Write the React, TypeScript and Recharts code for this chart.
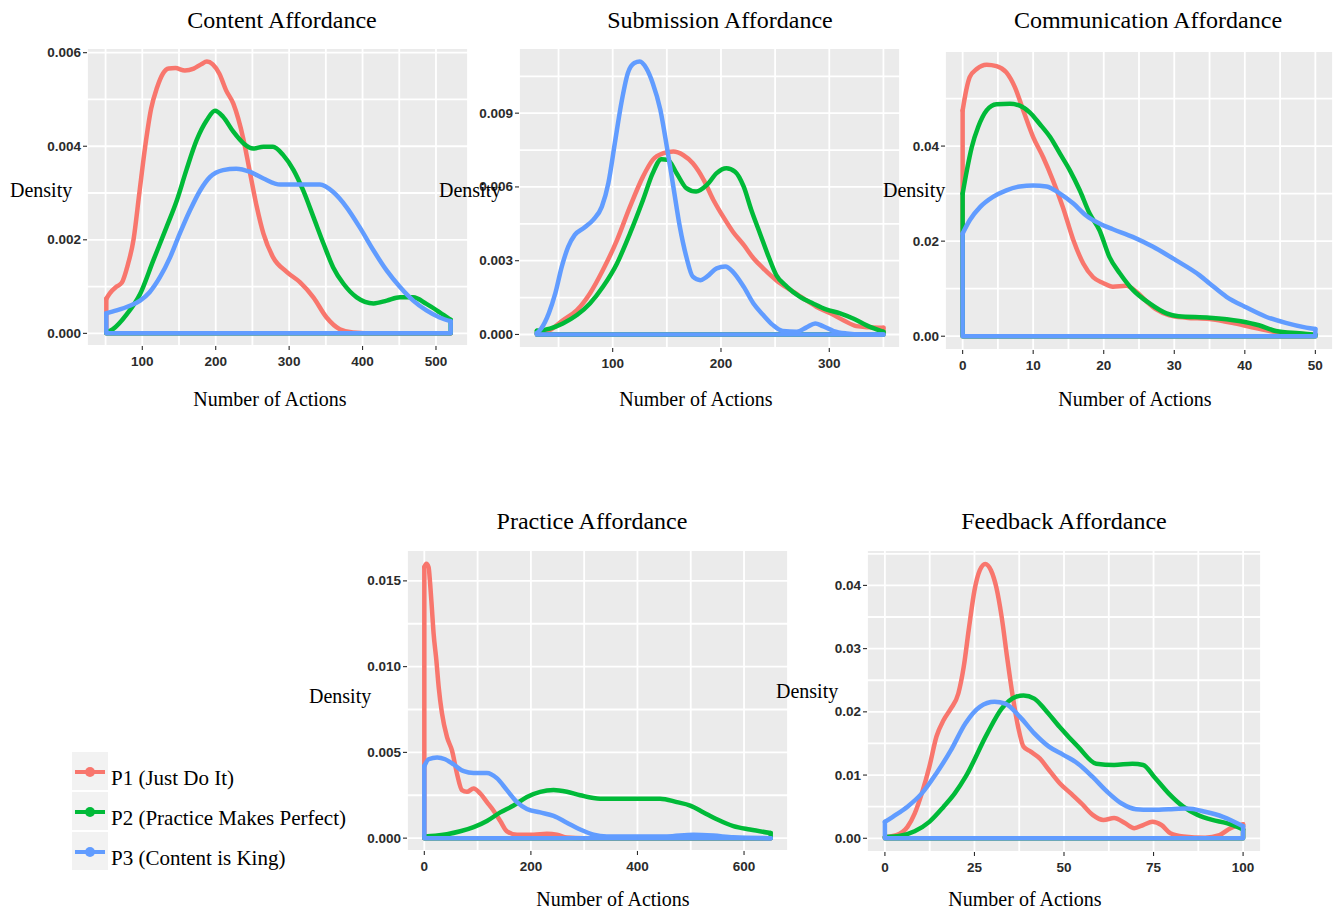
import React from 'react'
import { LineChart, Line, XAxis, YAxis, CartesianGrid } from 'recharts'

type Pt = [number, number]

const seriesNames = ['P1 (Just Do It)', 'P2 (Practice Makes Perfect)', 'P3 (Content is King)']
const seriesColors = ['#F8766D', '#00BA38', '#619CFF']

// Content Affordance: [number of actions, density]
const contentP1: Pt[] = [
  [51, 0.00074], [56, 0.00086], [65, 0.001], [72, 0.00108], [80, 0.00145], [88, 0.002],
  [96, 0.003], [104, 0.004], [112, 0.0048], [120, 0.00525], [128, 0.00555], [136, 0.00566],
  [145, 0.00567], [158, 0.00562], [170, 0.00566], [180, 0.00575], [188, 0.00581], [196, 0.00575],
  [205, 0.00555], [214, 0.0052], [224, 0.00491], [238, 0.00413], [247, 0.00341], [256, 0.0027],
  [265, 0.00213], [278, 0.00163], [297, 0.00131], [315, 0.00109], [333, 0.00077], [351, 0.00034],
  [369, 0.00009], [387, 0.00002], [420, 0], [520, 0],
]
const contentP2: Pt[] = [
  [51, 0.00002], [60, 0.00009], [79, 0.00041], [97, 0.00084], [115, 0.00156], [133, 0.00227],
  [147, 0.00284], [160, 0.00349], [174, 0.00413], [188, 0.00456], [199, 0.00476], [210, 0.00463],
  [224, 0.00431], [238, 0.00406], [251, 0.00395], [265, 0.00399], [278, 0.00399], [292, 0.00381],
  [306, 0.00349], [319, 0.00306], [333, 0.00249], [347, 0.00191], [360, 0.00141], [374, 0.00106],
  [392, 0.00077], [415, 0.00064], [433, 0.0007], [451, 0.00077], [469, 0.00077], [487, 0.00063],
  [505, 0.00045], [520, 0.00029],
]
const contentP3: Pt[] = [
  [51, 0.00043], [65, 0.00049], [83, 0.00059], [97, 0.0007], [110, 0.00088], [124, 0.0012],
  [138, 0.00163], [151, 0.00213], [165, 0.00263], [179, 0.00306], [192, 0.00334], [210, 0.00349],
  [228, 0.00352], [247, 0.00345], [265, 0.00331], [288, 0.00318], [315, 0.00318], [342, 0.00318],
  [360, 0.00302], [378, 0.0027], [396, 0.00227], [415, 0.00177], [433, 0.00134], [451, 0.00099],
  [469, 0.0007], [487, 0.00049], [505, 0.00034], [520, 0.00026],
]
const contentXTicks = [100, 200, 300, 400, 500]
const contentYTicks = [0, 0.002, 0.004, 0.006]

// Submission Affordance
const submissionP1: Pt[] = [
  [30, 0.00005], [42, 0.00018], [54, 0.00058], [67, 0.00099], [79, 0.00167], [91, 0.00262],
  [104, 0.00384], [116, 0.0052], [128, 0.00642], [137, 0.0071], [147, 0.00737], [156, 0.00744],
  [165, 0.0073], [174, 0.00696], [184, 0.00629], [193, 0.00547], [202, 0.00479], [211, 0.00418],
  [221, 0.00364], [230, 0.0031], [239, 0.00269], [251, 0.00221], [264, 0.00181], [276, 0.00147],
  [288, 0.00113], [301, 0.00086], [313, 0.00058], [325, 0.00034], [337, 0.00029], [350, 0.00027],
]
const submissionP2: Pt[] = [
  [30, 0.00015], [42, 0.00024], [54, 0.00045], [67, 0.00079], [79, 0.00126], [91, 0.00194],
  [104, 0.00289], [116, 0.00411], [128, 0.00547], [137, 0.00656], [145, 0.00713], [151, 0.0071],
  [159, 0.00656], [168, 0.00595], [177, 0.00581], [187, 0.00608], [196, 0.00656], [205, 0.00676],
  [213, 0.00662], [221, 0.00601], [228, 0.00506], [236, 0.00411], [244, 0.00316], [251, 0.00242],
  [261, 0.00194], [273, 0.00153], [285, 0.00126], [297, 0.00102], [310, 0.00086], [322, 0.00065],
  [334, 0.00038], [350, 0.00011],
]
const submissionP3: Pt[] = [
  [30, 0.00005], [34, 0.00024], [41, 0.00086], [47, 0.00167], [53, 0.00276], [59, 0.00357],
  [65, 0.00405], [73, 0.00432], [82, 0.00466], [90, 0.0052], [96, 0.00615], [102, 0.00778],
  [108, 0.00941], [114, 0.01063], [120, 0.01104], [125, 0.0111], [131, 0.01083], [137, 0.01022],
  [144, 0.00914], [150, 0.00764], [156, 0.00601], [162, 0.00438], [168, 0.00316], [174, 0.00235],
  [181, 0.00221], [187, 0.00235], [196, 0.00269], [204, 0.00276], [211, 0.00255], [221, 0.00194],
  [230, 0.00126], [239, 0.00079], [248, 0.00038], [257, 0.00014], [270, 0.00011], [279, 0.00029],
  [287, 0.00045], [294, 0.00034], [304, 0.00014], [316, 0.00004], [330, 0], [350, 0],
]
const submissionXTicks = [100, 200, 300]
const submissionYTicks = [0, 0.003, 0.006, 0.009]

// Communication Affordance
const communicationP1: Pt[] = [
  [0, 0.0475], [0.5, 0.0517], [1, 0.0545], [2, 0.0562], [3.4, 0.0571], [4.8, 0.0568],
  [6.2, 0.0555], [7.4, 0.0524], [8.6, 0.0475], [10, 0.0419], [11.4, 0.0377], [12.8, 0.0328],
  [14.2, 0.0272], [15.7, 0.0202], [17.1, 0.0153], [18.5, 0.0124], [19.9, 0.0112], [21.3, 0.0104],
  [23.2, 0.0106], [24.6, 0.0094], [26, 0.0074], [27.5, 0.0056], [29.3, 0.0044], [31.7, 0.0039],
  [35, 0.0036], [38.2, 0.0028], [41, 0.0019], [43.9, 0.001], [47.7, 0.0005], [50, 0.0003],
]
const communicationP2: Pt[] = [
  [0, 0.03], [0.6, 0.0349], [1.3, 0.0398], [2.2, 0.044], [3.4, 0.0475], [4.8, 0.0488],
  [6.7, 0.0489], [8.1, 0.0485], [9.5, 0.0471], [10.9, 0.0447], [12.4, 0.0419], [13.8, 0.0384],
  [15.2, 0.0349], [16.6, 0.0307], [18, 0.0258], [19.4, 0.0223], [20.8, 0.0167], [22.3, 0.0132],
  [24.1, 0.0098], [26.5, 0.0069], [28.9, 0.0048], [30.6, 0.0042], [35, 0.0039], [39.2, 0.0032],
  [42, 0.0023], [44.4, 0.0011], [47.7, 0.0006], [50, 0.0003],
]
const communicationP3: Pt[] = [
  [0, 0.0216], [1, 0.0244], [2.5, 0.0272], [4.3, 0.0293], [6.2, 0.0307], [8.1, 0.0315],
  [10, 0.0317], [11.9, 0.0315], [13.8, 0.03], [15.7, 0.0279], [17.5, 0.0254], [19.4, 0.0237],
  [21.3, 0.0225], [24.1, 0.0209], [27, 0.0188], [30.2, 0.016], [33.6, 0.0128], [35, 0.0111],
  [37.4, 0.0083], [40, 0.0062], [43, 0.0041], [45.8, 0.0028], [48.7, 0.0018], [50, 0.0015],
]
const communicationXTicks = [0, 10, 20, 30, 40, 50]
const communicationYTicks = [0, 0.02, 0.04]

// Practice Affordance
const practiceP1: Pt[] = [
  [0, 0.0158], [3.75, 0.016], [8, 0.0158], [11, 0.0148], [14, 0.0135], [17.5, 0.0119],
  [22.5, 0.0104], [27, 0.0088], [33, 0.0073], [42.5, 0.0059], [52, 0.0051], [61, 0.0038],
  [70.6, 0.0028], [80, 0.0027], [92.5, 0.0029], [105, 0.0026], [117.5, 0.0021], [130, 0.0016],
  [142.5, 0.001], [155, 0.0004], [174, 0.0002], [205, 0.0002], [230, 0.00025], [249, 0.0002],
  [267.5, 0.00004], [300, 0], [650, 0],
]
const practiceP2: Pt[] = [
  [0, 0.0001], [20.6, 0.00014], [42.5, 0.00023], [67.5, 0.0004], [92.5, 0.00064], [117.5, 0.001],
  [142.5, 0.0015], [167.5, 0.0019], [192.5, 0.0024], [217.5, 0.0027], [242.5, 0.0028],
  [267.5, 0.0027], [292.5, 0.0025], [330, 0.0023], [392.5, 0.0023], [442.5, 0.0023], [474, 0.0021],
  [499, 0.0019], [524, 0.0015], [549, 0.0011], [580, 0.0007], [611, 0.0005], [650, 0.0003],
]
const practiceP3: Pt[] = [
  [0, 0.0042], [8, 0.0046], [24, 0.0047], [39, 0.0046], [55, 0.0043], [74, 0.0039], [92.5, 0.0038],
  [117.5, 0.0038], [136, 0.0035], [155, 0.0028], [174, 0.0021], [192.5, 0.0017], [217.5, 0.0015],
  [242.5, 0.0013], [267.5, 0.0009], [292.5, 0.0005], [317.5, 0.0002], [342.5, 0.0001], [455, 0.0001],
  [505, 0.0002], [542.5, 0.00015], [580, 0.00005], [650, 0],
]
const practiceXTicks = [0, 200, 400, 600]
const practiceYTicks = [0, 0.005, 0.01, 0.015]

// Feedback Affordance
const feedbackP1: Pt[] = [
  [0, 0.0002], [3.2, 0.0005], [6.3, 0.0018], [8.3, 0.0039], [10.3, 0.0071], [12.4, 0.0113],
  [14.4, 0.0161], [16.4, 0.0187], [18.4, 0.0205], [20.5, 0.0229], [22, 0.0271], [23.5, 0.0334],
  [25, 0.0392], [26.5, 0.0424], [28, 0.0434], [29.6, 0.0424], [31.1, 0.0397], [32.6, 0.035],
  [34.1, 0.0287], [35.7, 0.0224], [37.2, 0.0176], [38.7, 0.0145], [40.7, 0.0137], [43.3, 0.0126],
  [45.8, 0.0108], [48.8, 0.0087], [51.9, 0.0071], [54.9, 0.0055], [58, 0.0037], [61, 0.0029],
  [64, 0.0032], [67, 0.0024], [69.6, 0.0016], [72.1, 0.0021], [74.7, 0.0026], [77.2, 0.0021],
  [79.7, 0.0008], [83.3, 0.0003], [89.4, 0.0001], [93.4, 0.0005], [96.5, 0.0016], [100, 0.0022],
]
const feedbackP2: Pt[] = [
  [0, 0.0002], [4.3, 0.0004], [8.3, 0.0011], [12.4, 0.0026], [16.4, 0.005], [19.5, 0.0071],
  [22.5, 0.0097], [28.6, 0.0166], [32.6, 0.0205], [36.7, 0.0224], [38.7, 0.0226], [41.7, 0.0221],
  [44.8, 0.0203], [48.8, 0.0176], [53.9, 0.0145], [59, 0.0118], [64, 0.0116], [69.1, 0.0118],
  [72.1, 0.0116], [75.2, 0.0097], [79.2, 0.0071], [83.3, 0.005], [87.3, 0.0037], [91.4, 0.0029],
  [95.4, 0.0024], [100, 0.0014],
]
const feedbackP3: Pt[] = [
  [0, 0.0026], [2.2, 0.0034], [6.3, 0.005], [10.3, 0.0071], [14.4, 0.0103], [18.4, 0.0139],
  [22.5, 0.0182], [26.5, 0.0208], [30.6, 0.0216], [33.6, 0.0213], [37.7, 0.0192], [41.7, 0.0166],
  [45.8, 0.0145], [49.8, 0.0132], [53.9, 0.0118], [58, 0.0097], [62, 0.0074], [66.1, 0.0055],
  [70.1, 0.0046], [74.2, 0.0045], [79.2, 0.0046], [84.3, 0.0047], [89.4, 0.0042], [94.4, 0.0034],
  [100, 0.0019],
]
const feedbackXTicks = [0, 25, 50, 75, 100]
const feedbackYTicks = [0, 0.01, 0.02, 0.03, 0.04]

const X_LABEL = 'Number of Actions'
const Y_LABEL = 'Density'

interface Panel {
  title: string
  series: Pt[][]
  xMajor: number[]
  yMajor: number[]
  yDigits: number
  xDomain: [number, number]
  yDomain: [number, number]
  // plot area on the page
  left: number
  top: number
  w: number
  h: number
  titleX: number
  titleY: number
  xLabelX: number
  xLabelY: number
  yLabelX: number
  yLabelY: number
}

const panels: Panel[] = [
  {
    title: 'Content Affordance', series: [contentP1, contentP2, contentP3],
    xMajor: contentXTicks, yMajor: contentYTicks, yDigits: 3,
    xDomain: [24.7, 543.6], yDomain: [-0.00027, 0.0061],
    left: 87, top: 48, w: 381, h: 298,
    titleX: 282, titleY: 28, xLabelX: 270, xLabelY: 406, yLabelX: 10, yLabelY: 197,
  },
  {
    title: 'Submission Affordance', series: [submissionP1, submissionP2, submissionP3],
    xMajor: submissionXTicks, yMajor: submissionYTicks, yDigits: 3,
    xDomain: [13.5, 365.3], yDomain: [-0.00055, 0.01165],
    left: 519, top: 48, w: 381, h: 300,
    titleX: 720, titleY: 28, xLabelX: 696, xLabelY: 406, yLabelX: 439, yLabelY: 197,
  },
  {
    title: 'Communication Affordance', series: [communicationP1, communicationP2, communicationP3],
    xMajor: communicationXTicks, yMajor: communicationYTicks, yDigits: 2,
    xDomain: [-2.5, 52.5], yDomain: [-0.0029, 0.06],
    left: 945, top: 51, w: 388, h: 299,
    titleX: 1148, titleY: 28, xLabelX: 1135, xLabelY: 406, yLabelX: 883, yLabelY: 197,
  },
  {
    title: 'Practice Affordance', series: [practiceP1, practiceP2, practiceP3],
    xMajor: practiceXTicks, yMajor: practiceYTicks, yDigits: 3,
    xDomain: [-32.5, 682.5], yDomain: [-0.00075, 0.0168],
    left: 407, top: 550, w: 381, h: 301,
    titleX: 592, titleY: 529, xLabelX: 613, xLabelY: 906, yLabelX: 309, yLabelY: 703,
  },
  {
    title: 'Feedback Affordance', series: [feedbackP1, feedbackP2, feedbackP3],
    xMajor: feedbackXTicks, yMajor: feedbackYTicks, yDigits: 2,
    xDomain: [-5, 105], yDomain: [-0.00217, 0.0456],
    left: 867, top: 550, w: 394, h: 302,
    titleX: 1064, titleY: 529, xLabelX: 1025, xLabelY: 906, yLabelX: 776, yLabelY: 698,
  },
]

const LEFT_PAD = 70
const TOP_PAD = 4
const BOTTOM_PAD = 40
const SERIF = '"Liberation Serif", "Times New Roman", serif'
const SANS = '"Liberation Sans", Arial, sans-serif'
const TICK_COLOR = '#2b2b2b'
const TICK_FONT = 13.5

// majors plus the half-step minor lines that ggplot draws, kept inside the domain
function gridTicks(major: number[], domain: [number, number]) {
  const step = major[1] - major[0]
  const out: number[] = []
  for (let k = -2; k <= major.length * 2 + 2; k++) {
    const v = +(major[0] + (k * step) / 2).toFixed(8)
    if (v > domain[0] && v < domain[1]) out.push(v)
  }
  return out
}

const isMajor = (v: number, majors: number[]) => majors.some((m) => Math.abs(m - v) < 1e-9)

const toCurve = (pts: Pt[]) => pts.map(([x, y]) => ({ x, y }))

// the closed outline geom_density draws: down to zero at both ends and along the baseline
const toFrame = (pts: Pt[]) => {
  const first = pts[0]
  const last = pts[pts.length - 1]
  return [
    { x: first[0], y: first[1] },
    { x: first[0], y: 0 },
    { x: last[0], y: 0 },
    { x: last[0], y: last[1] },
  ]
}

function DensityPanel({ p }: { p: Panel }) {
  const rightPad = 0
  const xTicks = gridTicks(p.xMajor, p.xDomain)
  const yTicks = gridTicks(p.yMajor, p.yDomain)

  const renderXTick = (props: any) => {
    const { x, y, payload } = props
    if (!isMajor(payload.value, p.xMajor)) return <g />
    return (
      <g>
        <line x1={x} x2={x} y1={y} y2={y + 4} stroke={TICK_COLOR} strokeWidth={1.1} />
        <text x={x} y={y + 15} textAnchor="middle" dominantBaseline="central"
          fontFamily={SANS} fontWeight="bold" fontSize={TICK_FONT} fill={TICK_COLOR}>
          {payload.value}
        </text>
      </g>
    )
  }

  const renderYTick = (props: any) => {
    const { x, y, payload } = props
    if (!isMajor(payload.value, p.yMajor)) return <g />
    return (
      <g>
        <line x1={x - 4} x2={x} y1={y} y2={y} stroke={TICK_COLOR} strokeWidth={1.1} />
        <text x={x - 6} y={y} textAnchor="end" dominantBaseline="central"
          fontFamily={SANS} fontWeight="bold" fontSize={TICK_FONT} fill={TICK_COLOR}>
          {Number(payload.value).toFixed(p.yDigits)}
        </text>
      </g>
    )
  }

  return (
    <div style={{ position: 'absolute', left: p.left - LEFT_PAD, top: p.top - TOP_PAD }}>
      <LineChart
        width={p.w + LEFT_PAD + rightPad}
        height={p.h + TOP_PAD + BOTTOM_PAD}
        margin={{ top: TOP_PAD, right: rightPad, bottom: 0, left: 0 }}
      >
        <CartesianGrid fill="#EBEBEB" stroke="#FFFFFF" strokeWidth={1.8} />
        <XAxis
          type="number" dataKey="x" domain={p.xDomain} allowDataOverflow
          ticks={xTicks} interval={0} height={BOTTOM_PAD}
          axisLine={false} tickLine={false} tickSize={0} tickMargin={0}
          tick={renderXTick}
        />
        <YAxis
          type="number" domain={p.yDomain} allowDataOverflow
          ticks={yTicks} interval={0} width={LEFT_PAD}
          axisLine={false} tickLine={false} tickSize={0} tickMargin={0}
          tick={renderYTick}
        />
        {p.series.flatMap((pts, i) => [
          <Line
            key={`curve-${i}`} data={toCurve(pts)} dataKey="y" type="monotone"
            stroke={seriesColors[i]} strokeWidth={4.5} strokeLinecap="round" strokeLinejoin="round"
            dot={false} activeDot={false} isAnimationActive={false}
          />,
          <Line
            key={`frame-${i}`} data={toFrame(pts)} dataKey="y" type="linear"
            stroke={seriesColors[i]} strokeWidth={4.5} strokeLinecap="round" strokeLinejoin="round"
            dot={false} activeDot={false} isAnimationActive={false}
          />,
        ])}
      </LineChart>
    </div>
  )
}

function Labels() {
  return (
    <svg width={1333} height={911} style={{ position: 'absolute', left: 0, top: 0, pointerEvents: 'none' }}>
      {panels.map((p) => (
        <g key={p.title} fontFamily={SERIF} fill="#000">
          <text x={p.titleX} y={p.titleY} textAnchor="middle" fontSize={24}>{p.title}</text>
          <text x={p.xLabelX} y={p.xLabelY} textAnchor="middle" fontSize={20}>{X_LABEL}</text>
          <text x={p.yLabelX} y={p.yLabelY} fontSize={20}>{Y_LABEL}</text>
        </g>
      ))}
      {seriesNames.map((name, i) => {
        const top = 752 + i * 40
        return (
          <g key={name}>
            <rect x={72} y={top} width={36} height={38} fill="#F2F2F2" />
            <line x1={75} x2={105} y1={top + 20} y2={top + 20} stroke={seriesColors[i]} strokeWidth={4} />
            <circle cx={90} cy={top + 20} r={5} fill={seriesColors[i]} />
            <text x={111} y={top + 33} fontFamily={SERIF} fontSize={21} fill="#000">{name}</text>
          </g>
        )
      })}
    </svg>
  )
}

export default function App() {
  return (
    <div style={{ position: 'absolute', left: 0, top: 0, width: 1333, height: 911, overflow: 'hidden', background: '#fff' }}>
      {panels.map((p) => (
        <DensityPanel key={p.title} p={p} />
      ))}
      <Labels />
    </div>
  )
}
